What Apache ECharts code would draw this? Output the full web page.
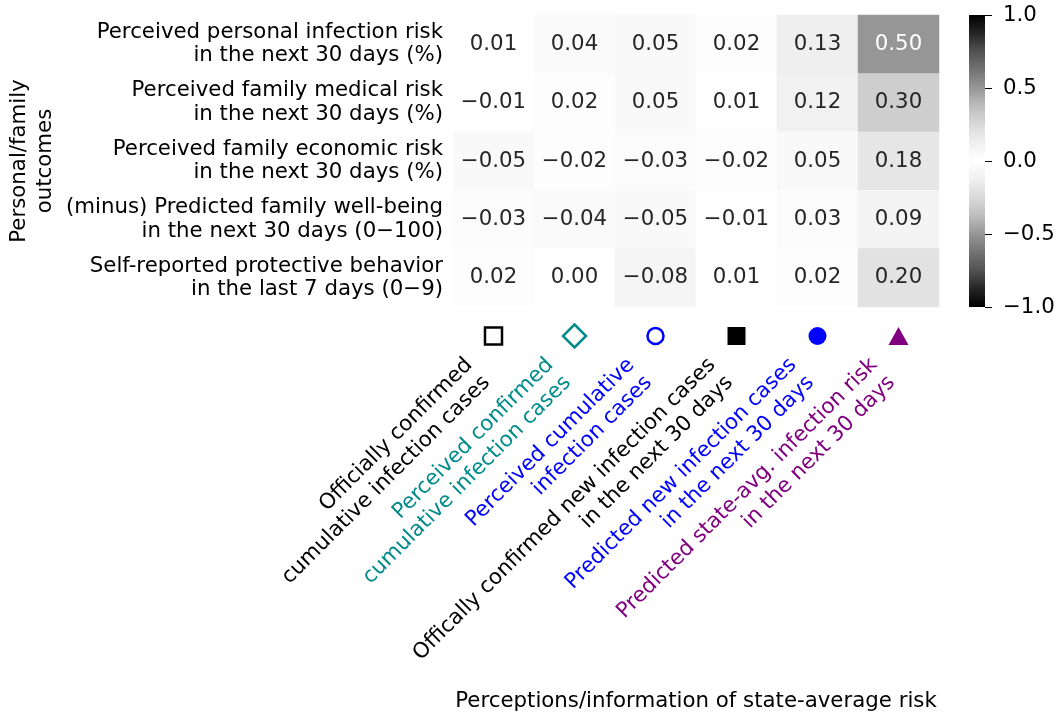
<!DOCTYPE html>
<html>
<head>
<meta charset="utf-8">
<script src="https://cdn.jsdelivr.net/npm/echarts@6/dist/echarts.min.js"></script>
<style>
html,body{margin:0;padding:0;background:#fff;}
#chart{width:1058px;height:717px;}
</style>
</head>
<body>
<div id="chart"></div>
<script>
// ---- data ----
const rowLabels = [
  'Perceived personal infection risk\nin the next 30 days (%)',
  'Perceived family medical risk\nin the next 30 days (%)',
  'Perceived family economic risk\nin the next 30 days (%)',
  '(minus) Predicted family well-being\nin the next 30 days (0\u2212100)',
  'Self-reported protective behavior\nin the last 7 days (0\u22129)'
];
const colLabels = [
  'Officially confirmed\ncumulative infection cases',
  'Perceived confirmed\ncumulative infection cases',
  'Perceived cumulative\ninfection cases',
  'Offically confirmed new infection cases\nin the next 30 days',
  'Predicted new infection cases\nin the next 30 days',
  'Predicted state-avg. infection risk\nin the next 30 days'
];
const row0 = [0.01, 0.04, 0.05, 0.02, 0.13, 0.50];
const row1 = [-0.01, 0.02, 0.05, 0.01, 0.12, 0.30];
const row2 = [-0.05, -0.02, -0.03, -0.02, 0.05, 0.18];
const row3 = [-0.03, -0.04, -0.05, -0.01, 0.03, 0.09];
const row4 = [0.02, 0.00, -0.08, 0.01, 0.02, 0.20];
const colorbarTicks = [-1.0, -0.5, 0.0, 0.5, 1.0];

// ---- styles ----
const colColors = ['#000000', '#008b8b', '#0000ff', '#000000', '#0000ff', '#800080'];
const markerSymbols = ['rect', 'diamond', 'circle', 'rect', 'circle', 'triangle'];
const markerFilled = [false, false, false, true, true, true];
const markerSizes = [[17,17], [23,23], [16,16], [18,18], [18,18], [20,18]];
const FONT = 'DejaVu Sans';
const FS = 21.3;
const greys = ['#000000','#252525','#525252','#737373','#969696','#bdbdbd','#d9d9d9','#f0f0f0','#ffffff',
               '#f0f0f0','#d9d9d9','#bdbdbd','#969696','#737373','#525252','#252525','#000000'];

const rows = [row0, row1, row2, row3, row4];
const heatData = [];
rows.forEach((r, yi) => r.forEach((v, xi) => {
  heatData.push({
    value: [xi, yi, v],
    label: { color: Math.abs(v) > 0.4 ? '#ffffff' : '#262626' }
  });
}));
const markerData = colLabels.map((c, i) => ({
  value: [i, 0.5],
  symbol: markerSymbols[i],
  symbolSize: markerSizes[i],
  itemStyle: markerFilled[i]
    ? { color: colColors[i], borderWidth: 0, opacity: 1 }
    : { color: '#ffffff', borderColor: colColors[i], borderWidth: 2.5, opacity: 1 }
}));
const fmt = v => (v < 0 ? '\u2212' : '') + Math.abs(v).toFixed(2);

const CB = { x: 969, y: 15, w: 16, h: 292 };
const cbGradient = new echarts.graphic.LinearGradient(0, 0, 0, 1,
  greys.map((c, i) => ({ offset: i / (greys.length - 1), color: c })));

const chart = echarts.init(document.getElementById('chart'));
chart.setOption({
  animation: false,
  backgroundColor: '#ffffff',
  textStyle: { fontFamily: FONT },
  grid: [
    { left: 453, top: 15, width: 486, height: 292 },
    { left: 453, top: 324, width: 486, height: 24 },
    { left: CB.x, top: CB.y, width: CB.w, height: CB.h }
  ],
  graphic: [{
    type: 'rect', silent: true, z: 1,
    shape: { x: CB.x, y: CB.y, width: CB.w, height: CB.h },
    style: { fill: cbGradient }
  }],
  xAxis: [
    { gridIndex: 0, type: 'category', data: colLabels, show: false },
    {
      gridIndex: 1, type: 'category', data: colLabels,
      axisLine: { show: false }, axisTick: { show: false },
      axisLabel: {
        interval: 0, rotate: 45, margin: 7, fontSize: FS, fontFamily: FONT,
        lineHeight: 25, padding: [0, 22, 0, 0],
        color: (val, idx) => colColors[idx]
      },
      name: 'Perceptions/information of state-average risk',
      nameLocation: 'middle', nameGap: 343, nameMoveOverlap: false,
      nameTextStyle: { fontSize: FS, fontFamily: FONT, color: '#000', verticalAlign: 'top' }
    },
    { gridIndex: 2, type: 'category', data: ['cb'], show: false }
  ],
  yAxis: [
    {
      gridIndex: 0, type: 'category', data: rowLabels, inverse: true,
      axisLine: { show: false }, axisTick: { show: false },
      axisLabel: { margin: 10, fontSize: FS, fontFamily: FONT, color: '#000', lineHeight: 23.5, align: 'right', padding: [5, 0, 0, 0] },
      name: 'Personal/family\noutcomes', nameLocation: 'middle', nameRotate: 90,
      nameGap: 395, nameMoveOverlap: false,
      nameTextStyle: { fontSize: FS, fontFamily: FONT, color: '#000', lineHeight: 26 }
    },
    { gridIndex: 1, type: 'value', show: false, min: 0, max: 1 },
    {
      gridIndex: 2, type: 'value', min: -1, max: 1, interval: 0.5, position: 'right',
      axisLine: { show: false, onZero: false },
      axisTick: { show: true, inside: false, length: 7, lineStyle: { color: '#000', width: 1 } },
      splitLine: { show: false },
      axisLabel: {
        margin: 18, fontSize: FS, fontFamily: FONT, color: '#000', padding: [5, 0, 0, 0],
        formatter: v => (v < 0 ? '\u2212' : '') + Math.abs(v).toFixed(1),
        customValues: colorbarTicks
      }
    }
  ],
  visualMap: {
    type: 'continuous', min: -1, max: 1, seriesIndex: 0,
    calculable: false, show: false,
    inRange: { color: greys }
  },
  series: [
    {
      type: 'heatmap', xAxisIndex: 0, yAxisIndex: 0, data: heatData,
      label: {
        show: true, fontSize: FS, fontFamily: FONT,
        formatter: p => fmt(p.value[2])
      },
      emphasis: { disabled: true }
    },
    {
      type: 'scatter', xAxisIndex: 1, yAxisIndex: 1, data: markerData,
      emphasis: { disabled: true }
    }
  ]
});
</script>
</body>
</html>
